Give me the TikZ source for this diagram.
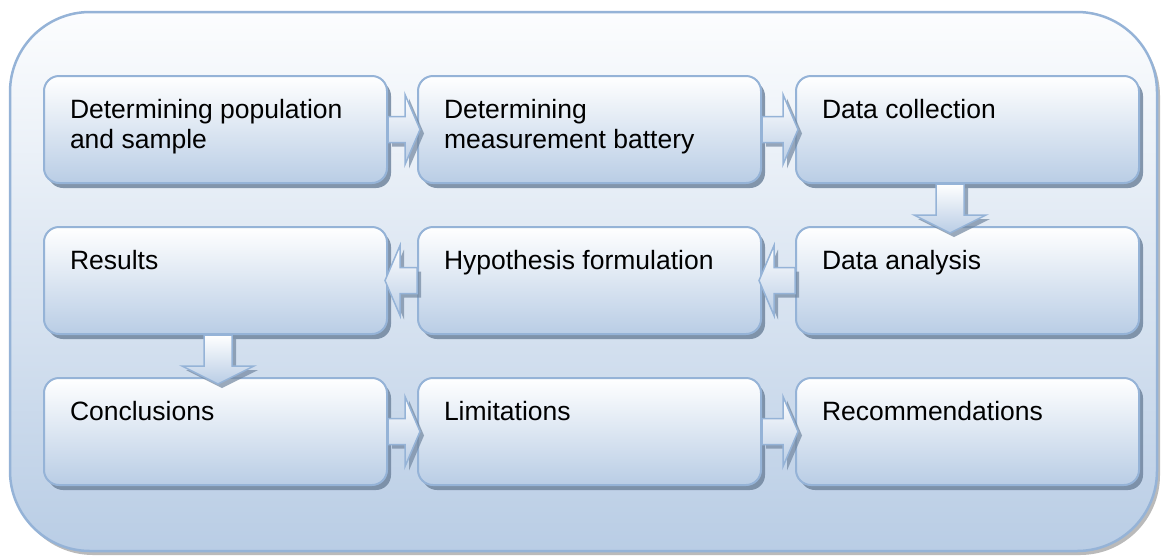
\documentclass[tikz,border=0pt]{standalone}
\usepackage{fontspec}
\setmainfont{Liberation Sans}
\usetikzlibrary{shadows,calc}

\definecolor{edgeblue}{HTML}{95B3D7}
\definecolor{fillblue}{HTML}{B9CDE5}
\definecolor{shadowblue}{HTML}{71869F}
\definecolor{paneltop}{HTML}{FCFDFE}

\tikzset{
  panel/.style={rounded corners=80pt, draw=edgeblue, line width=2.5pt,
    top color=paneltop, bottom color=fillblue,
    drop shadow={shadow xshift=3pt, shadow yshift=-4pt, fill=black!45, opacity=0.6}},
  stepbox/.style={rectangle, rounded corners=15pt, draw=edgeblue, line width=2pt,
    top color=white, bottom color=fillblue, inner xsep=26pt, inner ysep=0pt,
    anchor=north west, font=\fontsize{26.5pt}{30.5pt}\selectfont,
    drop shadow={shadow xshift=4pt, shadow yshift=-5pt, fill=shadowblue, opacity=0.85}},
  flowarrow/.style={draw=edgeblue, line width=1.5pt, line join=miter,
    top color=white, bottom color=fillblue,
    drop shadow={shadow xshift=4pt, shadow yshift=-4pt, fill=shadowblue, opacity=0.7}},
}

% text of a step, set flush to the top-left corner of its box
\newcommand{\steptext}[1]{\parbox[c][107pt][t]{291pt}{\raggedright\rule{0pt}{42pt}#1}}

% block arrow pointing right from the east side of #1 to the west side of #2
\newcommand{\arrowright}[2]{%
  \path[flowarrow] let \p1=(#1.east), \p2=(#2.west) in
    (\x1,\y1+13pt) -- (\x2-12pt,\y1+13pt) -- (\x2-12pt,\y1+35pt) -- (\x2+3pt,\y1)
    -- (\x2-12pt,\y1-35pt) -- (\x2-12pt,\y1-13pt) -- (\x1,\y1-13pt) -- cycle;}
% block arrow pointing left from the west side of #1 to the east side of #2
\newcommand{\arrowleft}[2]{%
  \path[flowarrow] let \p1=(#1.west), \p2=(#2.east) in
    (\x1,\y1+13pt) -- (\x2+12pt,\y1+13pt) -- (\x2+12pt,\y1+35pt) -- (\x2-3pt,\y1)
    -- (\x2+12pt,\y1-35pt) -- (\x2+12pt,\y1-13pt) -- (\x1,\y1-13pt) -- cycle;}
% block arrow pointing down from the bottom of #1 to the top of #2, #3 from the left side
\newcommand{\arrowdown}[3]{%
  \path[flowarrow] let \p1=(#1.south west), \p2=(#2.north west) in
    (\x1+#3-14pt,\y1) -- (\x1+#3-14pt,\y2+11pt) -- (\x1+#3-36pt,\y2+11pt) -- (\x1+#3,\y2-7pt)
    -- (\x1+#3+36pt,\y2+11pt) -- (\x1+#3+14pt,\y2+11pt) -- (\x1+#3+14pt,\y1) -- cycle;}

\begin{document}
\begin{tikzpicture}[x=1pt,y=-1pt]
  \useasboundingbox (0,0) rectangle (1161,558);

  % background panel
  \path[panel] (10,12) rectangle (1157,551);

  % process steps
  \node[stepbox] (pop)  at (43,75)   {\steptext{Determining population\\and sample}};
  \node[stepbox] (meas) at (417,75)  {\steptext{Determining\\measurement battery}};
  \node[stepbox] (coll) at (795,75)  {\steptext{Data collection}};
  \node[stepbox] (res)  at (43,226)  {\steptext{Results}};
  \node[stepbox] (hyp)  at (417,226) {\steptext{Hypothesis formulation}};
  \node[stepbox] (ana)  at (795,226) {\steptext{Data analysis}};
  \node[stepbox] (conc) at (43,377)  {\steptext{Conclusions}};
  \node[stepbox] (lim)  at (417,377) {\steptext{Limitations}};
  \node[stepbox] (rec)  at (795,377) {\steptext{Recommendations}};

  % connectors
  \arrowright{pop}{meas}
  \arrowright{meas}{coll}
  \arrowdown{coll}{ana}{155pt}
  \arrowleft{ana}{hyp}
  \arrowleft{hyp}{res}
  \arrowdown{res}{conc}{175pt}
  \arrowright{conc}{lim}
  \arrowright{lim}{rec}
\end{tikzpicture}
\end{document}
